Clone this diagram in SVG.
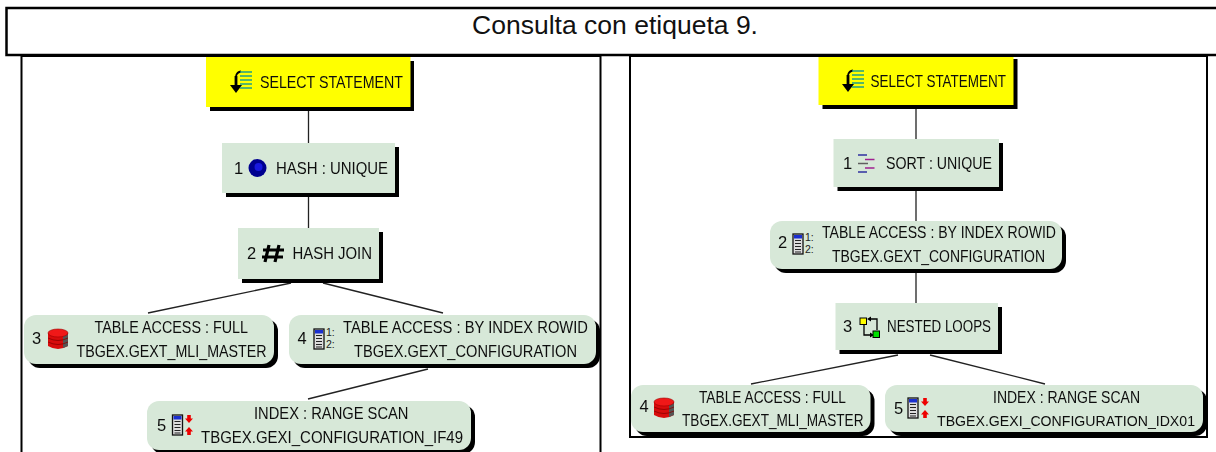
<svg xmlns="http://www.w3.org/2000/svg" width="1216" height="452" viewBox="0 0 1216 452">
<style>
.t{font-family:"Liberation Sans",Arial,sans-serif;font-size:16.500px;fill:#111;filter:url(#soft)}
.title{font-family:"Liberation Sans",Arial,sans-serif;font-size:25.500px;fill:#111}
.frame{fill:#fff;stroke:#000;stroke-width:2}
.titlebox{fill:#fff;stroke:#000;stroke-width:2.500}
.shadow{fill:#000}
.y{fill:#ffff00}
.g{fill:#d7e8d8}
.c{stroke:#222;stroke-width:1.300;fill:none}
.sm{font-family:"Liberation Sans",Arial,sans-serif;font-size:10.500px;fill:#222}
</style>
<defs>
<filter id="soft" x="-5%" y="-20%" width="110%" height="140%"><feGaussianBlur stdDeviation="0.3"/></filter>
<g id="sel">
<path d="M-4-6V6" stroke="#000" stroke-width="2.800" fill="none"/><path d="M-4-6q1-4 5-4.500" stroke="#000" stroke-width="1.800" fill="none"/><path d="M-10 3H2L-4 11Z" fill="#000"/>
<path d="M0-10H12M0-6H12M0-2H12M0 2H12M0 6H12" stroke="#1fa08a" stroke-width="1.500"/>
</g>
<g id="cyl">
<path d="M-10-6V7Q0 13 10 7V-6Z" fill="#d80c0c"/>
<path d="M5-3L10-5V7L5 9Z" fill="#555"/>
<path d="M-10-1Q0 4 10-1M-10 3Q0 8 10 3" stroke="#8a0000" stroke-width=".8" fill="none"/>
<ellipse cx="0" cy="-6" rx="10" ry="4" fill="#f01818" stroke="#a00000" stroke-width=".6"/>
</g>
<g id="idx">
<rect x="-5" y="-10" width="10" height="20" fill="#ddd" stroke="#111" stroke-width="1.300"/>
<rect x="-4" y="-9" width="8" height="3.500" fill="#1a2fd0"/>
<path d="M-3-3.500H3M-3-.5H3M-3 2.500H3M-3 5.500H3M-3 8H3" stroke="#222" stroke-width="1.200"/>
</g>
<g id="arr" fill="#ee0000">
<path d="M0-2L-4-6.500H-1.800V-10H1.800V-6.500H4Z"/><path d="M0 2L-4 6.500H-1.800V10H1.800V6.500H4Z"/>
</g>
</defs>

<rect class="titlebox" x="6.500" y="8" width="1212" height="47"/>
<text class="title" x="472" y="34" textLength="286" lengthAdjust="spacingAndGlyphs">Consulta con etiqueta 9.</text>
<rect class="frame" x="21.500" y="56" width="579" height="400"/>
<rect class="frame" x="630" y="56" width="577" height="381"/>

<g id="connectors">
<path class="c" d="M308.500 111V143M308.500 197V228M291 283L148 313M323 283L443 313M428 369L308 399"/>
<path class="c" d="M916 109V139M916 191V221M916 273V303M898 355L751 384M930 355L1045 384"/>
</g>

<g id="L0"><rect class="shadow" x="210" y="61" width="204" height="50"/><rect class="y" x="206" y="57" width="204.500" height="50"/><use href="#sel" x="240" y="82"/><text class="t" x="260" y="88" textLength="143" lengthAdjust="spacingAndGlyphs">SELECT STATEMENT</text></g>
<g id="L1"><rect class="shadow" x="226" y="147" width="173" height="50"/><rect class="g" x="222" y="143" width="173" height="50"/><circle cx="257.500" cy="168" r="9" fill="#000090"/><circle cx="258.500" cy="167" r="4" fill="#1818e0"/><text class="t" x="234" y="174">1</text><text class="t" x="276" y="174" textLength="112" lengthAdjust="spacingAndGlyphs">HASH : UNIQUE</text></g>
<g id="L2"><rect class="shadow" x="242" y="232" width="141" height="51"/><rect class="g" x="238" y="228" width="141" height="51"/><path d="M269 245L265 262M279 245L275 262M263 250H284M262 257H283" stroke="#000" stroke-width="3.200" fill="none"/><text class="t" x="247" y="259">2</text><text class="t" x="292.500" y="259" textLength="79.500" lengthAdjust="spacingAndGlyphs">HASH JOIN</text></g>
<g id="L3"><rect class="shadow" x="28" y="319" width="250" height="49" rx="12"/><rect class="g" x="24" y="315" width="250" height="49" rx="12"/><use href="#cyl" x="58" y="339"/><text class="t" x="32" y="344">3</text><text class="t" x="94.500" y="333" textLength="153.500" lengthAdjust="spacingAndGlyphs">TABLE ACCESS : FULL</text><text class="t" x="76.500" y="357" textLength="190" lengthAdjust="spacingAndGlyphs">TBGEX.GEXT_MLI_MASTER</text></g>
<g id="L4"><rect class="shadow" x="293" y="319" width="307" height="49" rx="12"/><rect class="g" x="289" y="315" width="307" height="49" rx="12"/><use href="#idx" x="319" y="339"/><text class="sm" x="326" y="336">1:</text><text class="sm" x="326" y="348">2:</text><text class="t" x="297.500" y="344">4</text><text class="t" x="343" y="333" textLength="245" lengthAdjust="spacingAndGlyphs">TABLE ACCESS : BY INDEX ROWID</text><text class="t" x="354" y="357" textLength="223" lengthAdjust="spacingAndGlyphs">TBGEX.GEXT_CONFIGURATION</text></g>
<g id="L5"><rect class="shadow" x="151" y="405" width="324" height="49" rx="12"/><rect class="g" x="147" y="401" width="324" height="49" rx="12"/><use href="#idx" x="177.500" y="425"/><use href="#arr" x="189" y="425"/><text class="t" x="157" y="431">5</text><text class="t" x="254" y="419" textLength="154.500" lengthAdjust="spacingAndGlyphs">INDEX : RANGE SCAN</text><text class="t" x="201" y="443" textLength="262" lengthAdjust="spacingAndGlyphs">TBGEX.GEXI_CONFIGURATION_IF49</text></g>

<g id="R0"><rect class="shadow" x="822.500" y="59" width="195" height="50"/><rect class="y" x="818.500" y="57" width="195" height="48"/><use href="#sel" x="852" y="81"/><text class="t" x="870.500" y="87" textLength="135.500" lengthAdjust="spacingAndGlyphs">SELECT STATEMENT</text></g>
<g id="R1"><rect class="shadow" x="837.500" y="143" width="165.500" height="48"/><rect class="g" x="833.500" y="139" width="165.500" height="48"/><path d="M858 155H867M858 172H867" stroke="#3030a0" stroke-width="1.500"/><path d="M865 159.500H874.500M865 168H874.500" stroke="#a02090" stroke-width="1.500"/><path d="M858 163.500H868" stroke="#606060" stroke-width="1.500"/><text class="t" x="843" y="169">1</text><text class="t" x="886" y="169" textLength="106" lengthAdjust="spacingAndGlyphs">SORT : UNIQUE</text></g>
<g id="R2"><rect class="shadow" x="774" y="225" width="292" height="48" rx="12"/><rect class="g" x="770" y="221" width="292" height="48" rx="12"/><use href="#idx" x="798" y="244"/><text class="sm" x="805" y="241">1:</text><text class="sm" x="805" y="253">2:</text><text class="t" x="778" y="248">2</text><text class="t" x="822" y="238" textLength="234" lengthAdjust="spacingAndGlyphs">TABLE ACCESS : BY INDEX ROWID</text><text class="t" x="832" y="262" textLength="213" lengthAdjust="spacingAndGlyphs">TBGEX.GEXT_CONFIGURATION</text></g>
<g id="R3"><rect class="shadow" x="839.500" y="307" width="162.500" height="47"/><rect class="g" x="835.500" y="303" width="162.500" height="47"/><path d="M870 319H877V330M864 325V335H871" stroke="#000" stroke-width="1.300" fill="none"/><path d="M867 319L871 316.500V321.500ZM874 335L870 332.500V337.500Z" fill="#000"/><rect x="860" y="318" width="6.500" height="6.500" fill="#ffff00" stroke="#000"/><rect x="873" y="331" width="6.500" height="6.500" fill="#00e000" stroke="#000"/><text class="t" x="843" y="332">3</text><text class="t" x="887" y="332" textLength="104" lengthAdjust="spacingAndGlyphs">NESTED LOOPS</text></g>
<g id="R4"><rect class="shadow" x="635" y="389" width="239.500" height="47" rx="12"/><rect class="g" x="631" y="385" width="239.500" height="47" rx="12"/><use href="#cyl" x="664" y="408"/><text class="t" x="639.500" y="412">4</text><text class="t" x="699" y="403" textLength="147" lengthAdjust="spacingAndGlyphs">TABLE ACCESS : FULL</text><text class="t" x="682" y="426" textLength="181.500" lengthAdjust="spacingAndGlyphs">TBGEX.GEXT_MLI_MASTER</text></g>
<g id="R5"><rect class="shadow" x="889" y="389" width="318" height="47" rx="12"/><rect class="g" x="885" y="385" width="318" height="47" rx="12"/><use href="#idx" x="913" y="408"/><use href="#arr" x="925" y="408"/><text class="t" x="894" y="414">5</text><text class="t" x="993" y="403" textLength="147" lengthAdjust="spacingAndGlyphs">INDEX : RANGE SCAN</text><text class="t" style="font-size:15px" x="937" y="426" textLength="258" lengthAdjust="spacingAndGlyphs">TBGEX.GEXI_CONFIGURATION_IDX01</text></g>
</svg>
